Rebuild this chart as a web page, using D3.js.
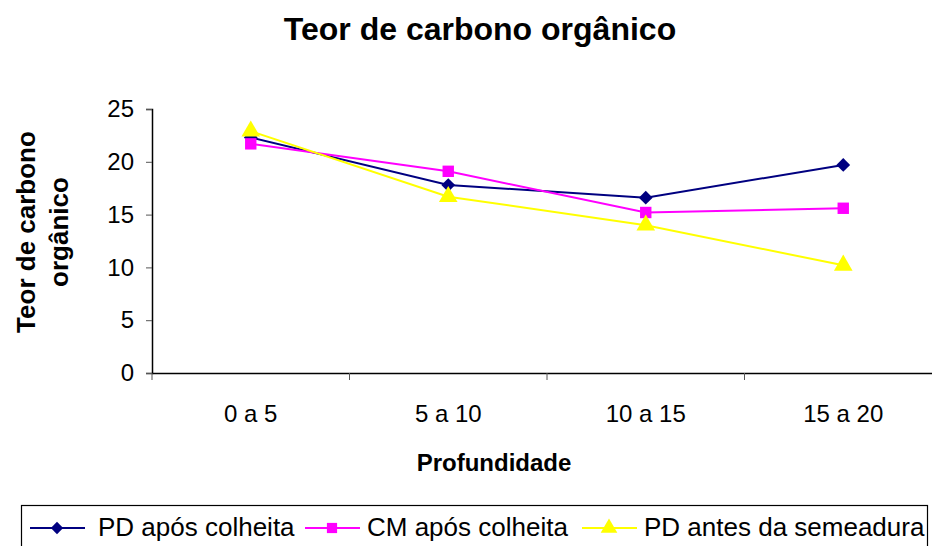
<!DOCTYPE html>
<html>
<head>
<meta charset="utf-8">
<script src="https://cdn.jsdelivr.net/npm/d3@7"></script>
<style>
  body { margin: 0; background: #fff; }
  svg { font-family: "Liberation Sans", Arial, sans-serif; }
</style>
</head>
<body>
<div id="chart"></div>
<script>
var categories = ["0 a 5", "5 a 10", "10 a 15", "15 a 20"];
var pdApos = [22.3, 17.8, 16.6, 19.7];
var cmApos = [21.7, 19.1, 15.2, 15.6];
var pdAntes = [22.9, 16.7, 14.0, 10.2];
var yTicks = [0, 5, 10, 15, 20, 25];

// o losango eh um quadrado girado 45 graus
var series = [
  { name: "PD após colheita", values: pdApos, color: "#000080", symbol: d3.symbolSquare, size: 95, rot: 45 },
  { name: "CM após colheita", values: cmApos, color: "#FF00FF", symbol: d3.symbolSquare, size: 130, rot: 0 },
  { name: "PD antes da semeadura", values: pdAntes, color: "#FFFF00", symbol: d3.symbolTriangle, size: 150, rot: 0 }
];

var width = 932, height = 546,
  margin = { left: 152, top: 109, right: -10, bottom: 173 };

var svg = d3.select("#chart").append("svg")
  .attr("width", width)
  .attr("height", height);

var x = d3.scaleBand()
  .domain(categories)
  .range([margin.left, width - margin.right]);

var y = d3.scaleLinear()
  .domain([0, 25])
  .range([height - margin.bottom, margin.top]);

// titulo
svg.append("text")
  .attr("x", 480).attr("y", 40)
  .attr("text-anchor", "middle")
  .attr("font-size", "32px").attr("font-weight", "bold")
  .text("Teor de carbono orgânico");

// eixos
var yAxis = svg.append("g")
  .attr("transform", "translate(" + margin.left + ",0)")
  .call(d3.axisLeft(y).tickValues(yTicks).tickSize(6).tickPadding(12));
yAxis.selectAll("text").attr("font-size", "24px").attr("fill", "#000");
yAxis.select(".domain").attr("stroke", "#000").attr("stroke-width", 1.5);
yAxis.selectAll(".tick line").attr("stroke", "#555");

var xAxis = svg.append("g")
  .attr("transform", "translate(0," + y(0) + ")")
  .call(d3.axisBottom(x).tickSize(0).tickPadding(32));
xAxis.selectAll("text").attr("font-size", "24px").attr("fill", "#000");
xAxis.select(".domain").attr("stroke", "#000").attr("stroke-width", 1.5);
// marcas entre categorias
xAxis.selectAll(".sep")
  .data(categories)
  .enter().append("line")
  .attr("class", "sep")
  .attr("x1", function (d) { return x(d); })
  .attr("x2", function (d) { return x(d); })
  .attr("y1", 0).attr("y2", 7)
  .attr("stroke", "#555");

// titulos dos eixos
svg.append("text")
  .attr("x", 494).attr("y", 471)
  .attr("text-anchor", "middle")
  .attr("font-size", "24px").attr("font-weight", "bold")
  .text("Profundidade");

var yt = svg.append("text")
  .attr("transform", "translate(35,232) rotate(-90)")
  .attr("text-anchor", "middle")
  .attr("font-size", "26px").attr("font-weight", "bold");
yt.append("tspan").attr("x", 0).attr("dy", 0).text("Teor de carbono");
yt.append("tspan").attr("x", 0).attr("dy", 33).text("orgânico");

// linhas
var line = d3.line()
  .x(function (d, i) { return x(categories[i]) + x.bandwidth() / 2; })
  .y(function (d) { return y(d); });

series.forEach(function (s) {
  svg.append("path")
    .datum(s.values)
    .attr("fill", "none")
    .attr("stroke", s.color)
    .attr("stroke-width", 2)
    .attr("d", line);
});

series.forEach(function (s) {
  svg.selectAll(null)
    .data(s.values)
    .enter().append("path")
    .attr("d", d3.symbol().type(s.symbol).size(s.size))
    .attr("fill", s.color)
    .attr("transform", function (d, i) {
      return "translate(" + (x(categories[i]) + x.bandwidth() / 2) + "," + y(d) + ") rotate(" + s.rot + ")";
    });
});

// legenda
var legend = svg.append("g");
legend.append("rect")
  .attr("x", 21.5).attr("y", 505.5)
  .attr("width", 906).attr("height", 50)
  .attr("fill", "none").attr("stroke", "#000").attr("stroke-width", 1.2);

var legX = [30, 305, 582];
series.forEach(function (s, i) {
  var g = legend.append("g").attr("transform", "translate(" + legX[i] + ",528)");
  g.append("line").attr("x1", 0).attr("x2", 55).attr("y1", 0).attr("y2", 0)
    .attr("stroke", s.color).attr("stroke-width", 2);
  g.append("path").attr("d", d3.symbol().type(s.symbol).size(s.size * 0.8))
    .attr("fill", s.color).attr("transform", "translate(27,0) rotate(" + s.rot + ")");
  g.append("text").attr("x", i === 0 ? 68 : 62).attr("y", 8)
    .attr("font-size", "26px")
    .text(s.name);
});
</script>
</body>
</html>
